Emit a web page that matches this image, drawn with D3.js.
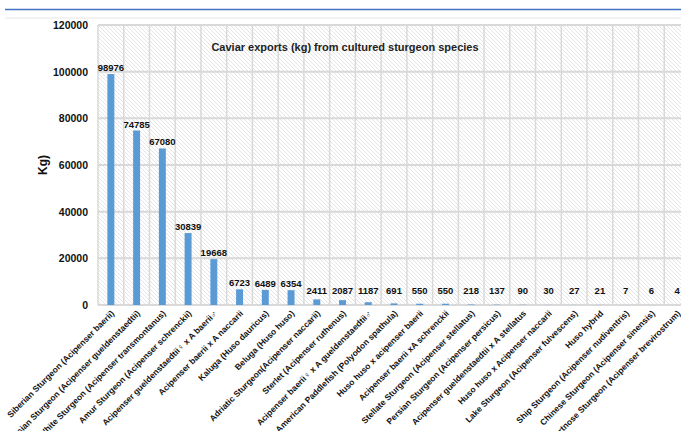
<!DOCTYPE html>
<html>
<head>
<meta charset="utf-8">
<script src="https://cdn.jsdelivr.net/npm/d3@7"></script>
<style>
  body { margin: 0; background: #fff; }
  svg { display: block; font-family: "Liberation Sans", Arial, sans-serif; }
</style>
</head>
<body>
<svg width="681" height="431"></svg>
<script>
var species = [
    'Siberian Sturgeon (Acipenser baerii)',
    'Russian Sturgeon (Acipenser gueldenstaedtii)',
    'White Sturgeon (Acipenser transmontanus)',
    'Amur Sturgeon (Acipenser schrenckii)',
    'Acipenser gueldenstaedtii\u2640 x A baerii\u2642',
    'Acipenser baerii x A naccarii',
    'Kaluga (Huso dauricus)',
    'Beluga (Huso huso)',
    'Adriatic Sturgeon(Acipenser naccarii)',
    'Sterlet (Acipenser ruthenus)',
    'Acipenser baerii\u2640 x A gueldenstaedtii\u2642',
    'American Paddlefish (Polyodon spathula)',
    'Huso huso x acipenser baerii',
    'Acipenser baerii xA schrenckii',
    'Stellate Sturgeon (Acipenser stellatus)',
    'Persian Sturgeon (Acipenser persicus)',
    'Acipenser gueldenstaedtii x A stellatus',
    'Huso huso x Acipenser naccarii',
    'Lake Sturgeon (Acipenser fulvescens)',
    'Huso hybrid',
    'Ship Sturgeon (Acipenser nudiventris)',
    'Chinese Sturgeon (Acipenser sinensis)',
    'Shortnose Sturgeon (Acipenser brevirostrum)'
];
var exportsKg = [98976, 74785, 67080, 30839, 19668, 6723, 6489, 6354, 2411, 2087,
    1187, 691, 550, 550, 218, 137, 90, 30, 27, 21, 7, 6, 4];
var yTicks = [0, 20000, 40000, 60000, 80000, 100000, 120000];

var svg = d3.select('svg');
var margin = {left: 98, top: 25, right: -9, bottom: 126};
var width = 681 - margin.left - margin.right;
var height = 431 - margin.top - margin.bottom;

// top rules
svg.append('line').attr('x1', 5).attr('x2', 681).attr('y1', 9.5).attr('y2', 9.5)
    .attr('stroke', '#4472c4').attr('stroke-width', 1.5);
svg.append('line').attr('x1', 5).attr('x2', 681).attr('y1', 18).attr('y2', 18)
    .attr('stroke', '#e6e6e6').attr('stroke-width', 1);

var defs = svg.append('defs');
var pat = defs.append('pattern')
    .attr('id', 'hatch')
    .attr('patternUnits', 'userSpaceOnUse')
    .attr('width', 4).attr('height', 4);
pat.append('rect').attr('width', 4).attr('height', 4).attr('fill', '#fff');
pat.append('path')
    .attr('d', 'M-1,-1 L5,5 M-1,3 L1,5 M3,-1 L5,1')
    .attr('stroke', '#dedede').attr('stroke-width', 0.8);

var g = svg.append('g')
    .attr('transform', 'translate(' + margin.left + ',' + margin.top + ')');

var x = d3.scaleBand()
    .domain(species)
    .range([0, width])
    .paddingInner(0.73)
    .paddingOuter(0.365);

var y = d3.scaleLinear()
    .domain([0, 120000])
    .range([height, 0]);

g.append('rect')
    .attr('width', width).attr('height', height)
    .attr('fill', 'url(#hatch)');

// grid
g.selectAll('.hgrid')
    .data(yTicks)
    .enter()
    .append('line')
        .attr('x1', 0).attr('x2', width)
        .attr('y1', function (d) { return y(d); })
        .attr('y2', function (d) { return y(d); })
        .attr('stroke', '#d9d9d9').attr('stroke-width', 2);

var step = x.step();
g.selectAll('.vgrid')
    .data(d3.range(species.length + 1))
    .enter()
    .append('line')
        .attr('x1', function (i) { return i * step; })
        .attr('x2', function (i) { return i * step; })
        .attr('y1', 0).attr('y2', height)
        .attr('stroke', '#d9d9d9').attr('stroke-width', 1.5);

// bars
g.selectAll('.bar')
    .data(exportsKg)
    .enter()
    .append('rect')
        .attr('x', function (d, i) { return x(species[i]); })
        .attr('y', function (d) { return y(d); })
        .attr('width', x.bandwidth())
        .attr('height', function (d) { return height - y(d); })
        .attr('fill', '#5b9bd5');

g.selectAll('.val')
    .data(exportsKg)
    .enter()
    .append('text')
        .attr('x', function (d, i) { return x(species[i]) + x.bandwidth() / 2; })
        .attr('y', function (d) { return Math.min(y(d), height - 8) - 3; })
        .attr('text-anchor', 'middle')
        .attr('font-size', 9.5)
        .attr('font-weight', 'bold')
        .attr('fill', '#111')
        .text(function (d) { return d; });

// y axis
var yAxis = g.append('g')
    .call(d3.axisLeft(y).tickValues(yTicks).tickSize(0).tickPadding(10).tickFormat(d3.format('d')));
yAxis.select('.domain').remove();
yAxis.selectAll('text')
    .attr('font-size', 10.5)
    .attr('font-weight', 'bold')
    .attr('fill', '#111')
    .attr('font-family', '"Liberation Sans", Arial, sans-serif');

// x axis labels
var xAxis = g.append('g')
    .attr('transform', 'translate(0,' + height + ')')
    .call(d3.axisBottom(x).tickSize(0).tickPadding(0));
xAxis.select('.domain').remove();
xAxis.selectAll('text')
    .attr('font-size', 8.5)
    .attr('font-weight', 'bold')
    .attr('fill', '#111')
    .attr('font-family', '"Liberation Sans", Arial, sans-serif')
    .attr('text-anchor', 'end')
    .attr('dy', 0)
    .attr('transform', 'translate(4,9) rotate(-45)');

// axis title
svg.append('text')
    .attr('transform', 'translate(47,' + (margin.top + height / 2) + ') rotate(-90)')
    .attr('text-anchor', 'middle')
    .attr('font-size', 12)
    .attr('font-weight', 'bold')
    .attr('fill', '#111')
    .text('Kg)');

// chart title
svg.append('text')
    .attr('x', 345).attr('y', 51)
    .attr('text-anchor', 'middle')
    .attr('font-size', 11)
    .attr('font-weight', 'bold')
    .attr('fill', '#222')
    .text('Caviar exports (kg) from cultured sturgeon species');
</script>
</body>
</html>
